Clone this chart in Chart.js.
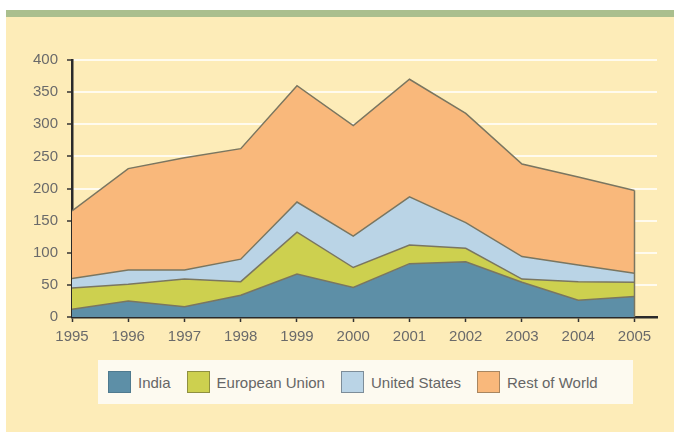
<!DOCTYPE html>
<html>
<head>
<meta charset="utf-8">
<script src="https://cdn.jsdelivr.net/npm/chart.js@4"></script>
<style>
  body { margin: 0; background: #fff; }
  #wrap { position: relative; width: 674px; height: 432px; overflow: hidden; font-family: "Liberation Sans", Arial, sans-serif; }
  #bar { position: absolute; left: 6px; top: 10px; right: 0; height: 7px; background: #aabf8e; }
  #cream { position: absolute; left: 6px; top: 17px; right: 0; bottom: 0; background: #fdecb8; }
  #chart { position: absolute; left: 0; top: 0; }
  #legend { position: absolute; left: 98px; top: 360px; width: 535px; height: 44px; background: #fdfaf0;
            display: flex; align-items: center; box-sizing: border-box; padding-left: 10px; }
  .item { display: flex; align-items: center; margin-right: 16px; color: #666; font-size: 15px; }
  .sw { width: 21px; height: 20px; margin-right: 7px; border: 1px solid #777; }
</style>
</head>
<body>
<div id="wrap">
  <div id="bar"></div>
  <div id="cream"></div>
  <canvas id="chart" width="674" height="432"></canvas>
  <div id="legend"></div>
</div>
<script>
// Data
const years = [1995, 1996, 1997, 1998, 1999, 2000, 2001, 2002, 2003, 2004, 2005];
const india = [12, 25, 16, 34, 67, 46, 83, 86, 54, 26, 32];
const eu = [33, 26, 43, 21, 65, 31, 29, 21, 5, 29, 22];
const us = [15, 22, 14, 35, 47, 49, 75, 40, 35, 26, 14];
const rest = [105, 158, 175, 172, 181, 172, 183, 170, 144, 137, 129];

const seriesNames = ["India", "European Union", "United States", "Rest of World"];
const seriesColors = ["#5d8fa7", "#cdd04f", "#bad4e6", "#f9b87b"];
const seriesBorders = ["#4f7a8f", "#8f9040", "#7d8d99", "#a88660"];

const lineColor = "#7a7660";

function toPoints(arr) {
  return arr.map((v, i) => ({ x: years[i], y: v }));
}

const datasets = [india, eu, us, rest].map((arr, i) => ({
  label: seriesNames[i],
  data: toPoints(arr),
  backgroundColor: seriesColors[i],
  borderColor: lineColor,
  borderWidth: 1.5,
  pointRadius: 0,
  tension: 0,
  fill: i === 0 ? "origin" : "-1"
}));

// vertical edge at the last year, like the original
const edgeLine = {
  id: "edgeLine",
  afterDatasetsDraw(chart) {
    const meta = chart.getDatasetMeta(chart.data.datasets.length - 1);
    const last = meta.data[meta.data.length - 1];
    const ctx = chart.ctx;
    ctx.save();
    ctx.strokeStyle = lineColor;
    ctx.lineWidth = 1.5;
    ctx.beginPath();
    ctx.moveTo(last.x, last.y);
    ctx.lineTo(last.x, chart.scales.y.getPixelForValue(0));
    ctx.stroke();
    ctx.restore();
  }
};

new Chart(document.getElementById("chart"), {
  type: "line",
  data: { datasets },
  plugins: [edgeLine],
  options: {
    responsive: false,
    animation: false,
    layout: { padding: { top: 60, right: 17, bottom: 80, left: 0 } },
    plugins: { legend: { display: false }, tooltip: { enabled: false } },
    scales: {
      x: {
        type: "linear",
        min: 1995,
        max: 2005.4,
        afterBuildTicks: s => { s.ticks = years.map(v => ({ value: v })); },
        afterFit: s => { s.height = 35; },
        grid: { drawOnChartArea: false, tickLength: 5, tickColor: "#333", tickWidth: 1.5 },
        border: { color: "#2a2a2a", width: 2.5 },
        ticks: {
          color: "#6a6a6a",
          font: { family: "Liberation Sans", size: 15 },
          padding: 6,
          maxRotation: 0,
          callback: v => String(v)
        }
      },
      y: {
        stacked: true,
        min: 0,
        max: 400,
        afterFit: s => { s.width = 72; },
        grid: { color: "#fffbee", lineWidth: 2, tickLength: 5, tickColor: "#333", tickWidth: 1.5 },
        border: { color: "#2a2a2a", width: 2.5 },
        ticks: {
          stepSize: 50,
          color: "#6a6a6a",
          font: { family: "Liberation Sans", size: 15 },
          padding: 9
        }
      }
    }
  }
});

// legend
const legend = document.getElementById("legend");
legend.innerHTML = seriesNames.map((n, i) =>
  `<div class="item"><div class="sw" style="background:${seriesColors[i]};border-color:${seriesBorders[i]}"></div>${n}</div>`
).join("");
</script>
</body>
</html>
